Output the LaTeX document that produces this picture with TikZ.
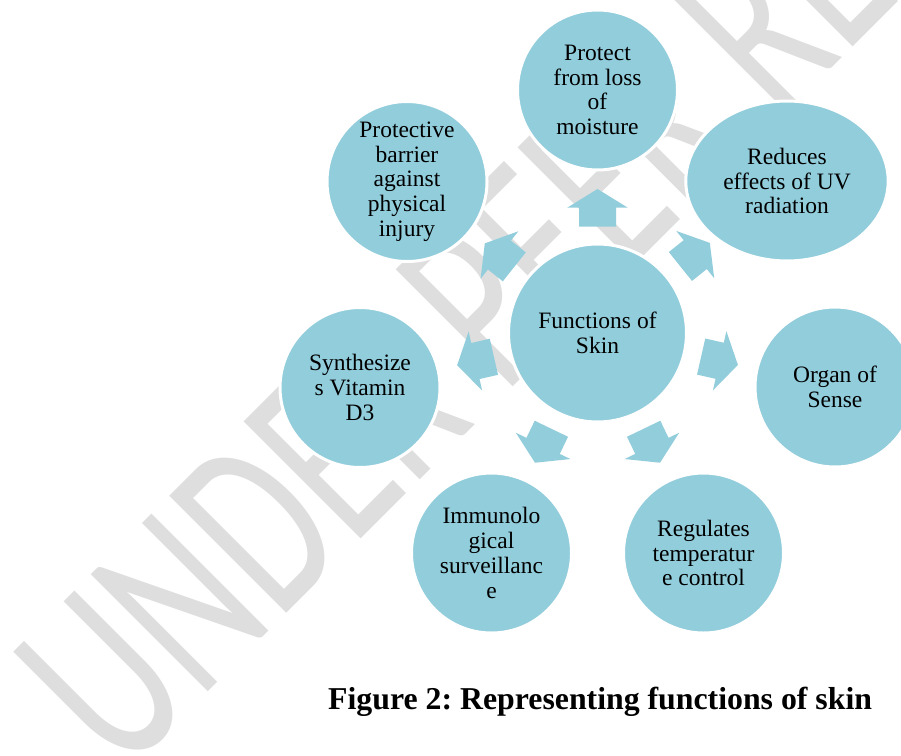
\documentclass[tikz,border=0pt]{standalone}
\usepackage{fontspec}
\usepackage{graphicx}
\setmainfont{Liberation Serif}
\newfontfamily\wmfont{Carlito}
\usetikzlibrary{calc,shapes.geometric}
\definecolor{skinblue}{RGB}{146,205,220}
\definecolor{wmgray}{RGB}{222,222,222}
\frenchspacing
\newcommand\fatarrow[2]{%
  \coordinate (fa-s) at ($(#1.center)!106.3bp!(#2.center)$);
  \coordinate (fa-h) at ($(#1.center)!125.3bp!(#2.center)$);
  \coordinate (fa-t) at ($(#1.center)!144bp!(#2.center)$);
  \fill[fatarrowstyle] ($(fa-s)!18.5bp!90:(#2.center)$) -- ($(fa-h)!18.5bp!90:(#2.center)$)
    -- ($(fa-h)!30.3bp!90:(#2.center)$) -- (fa-t) -- ($(fa-h)!30.3bp!-90:(#2.center)$)
    -- ($(fa-h)!18.5bp!-90:(#2.center)$) -- ($(fa-s)!18.5bp!-90:(#2.center)$) -- cycle;
}
\begin{document}
\begin{tikzpicture}[x=1bp,y=-1bp,
  bubble/.style={circle, fill=skinblue, draw=white, line width=3bp, minimum size=160bp, inner sep=0pt},
  bubbletext/.style={align=center, font=\fontsize{23.5bp}{24.7bp}\selectfont, inner sep=0pt, text=black},
  fatarrowstyle/.style={fill=skinblue},
  watermark/.style={text=wmgray, rotate=45, anchor=base west, inner sep=0pt, font=\wmfont\fontsize{258bp}{260bp}\selectfont}
]
\useasboundingbox (0,0) rectangle (901,756);
\clip (0,0) rectangle (901,756);
\fill[white] (0,0) rectangle (901,756);

% watermark
\node[watermark] (wm) at (122,778) {\scalebox{0.664}[1]{UNDER PEER REVIEW}};

% bubbles
\node[bubble, minimum size=178bp] (c) at (597.5,333) {};
\node[bubble] (o1) at (597.5,90) {};
\node[ellipse, fill=skinblue, draw=white, line width=3bp, minimum width=202.4bp, minimum height=160bp, inner sep=0pt] (o2) at (787,181) {};
\node[bubble] (o3) at (835,387) {};
\node[bubble] (o4) at (703.5,553) {};
\node[bubble] (o5) at (491.5,553) {};
\node[bubble] (o6) at (360,387.5) {};
\node[bubble] (o7) at (407,181.5) {};

% arrows
\fatarrow{c}{o1}
\fatarrow{c}{o2}
\fatarrow{c}{o3}
\fatarrow{c}{o4}
\fatarrow{c}{o5}
\fatarrow{c}{o6}
\fatarrow{c}{o7}

% texts
\node[bubbletext] (ct) at (c.center) {Functions of\\Skin};
\node[bubbletext] (t1) at (o1.center) {Protect\\from loss\\of\\moisture};
\node[bubbletext] (t2) at (o2.center) {Reduces\\effects of UV\\radiation};
\node[bubbletext] (t3) at (o3.center) {Organ of\\Sense};
\node[bubbletext] (t4) at (o4.center) {Regulates\\temperatur\\e control};
\node[bubbletext] (t5) at (o5.center) {Immunolo\\gical\\surveillanc\\e};
\node[bubbletext] (t6) at (o6.center) {Synthesize\\s Vitamin\\D3};
\node[bubbletext] (t7) at (o7.center) {Protective\\barrier\\against\\physical\\injury};

% caption
\node[anchor=base west, inner sep=0pt, font=\bfseries\fontsize{31.8bp}{34bp}\selectfont] (cap) at (328,709) {Figure 2: Representing functions of skin};
\end{tikzpicture}
\end{document}
